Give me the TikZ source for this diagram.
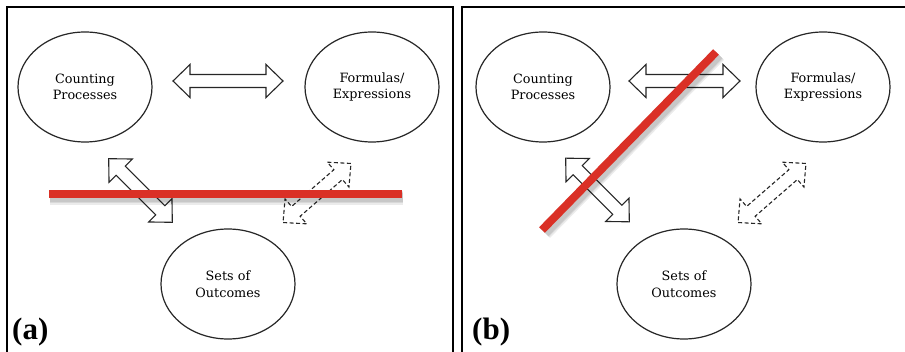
\documentclass[tikz,border=0pt]{standalone}
\usepackage{fontspec}
\setmainfont{DejaVu Serif}
\newfontfamily\labelfont{Liberation Serif}
\usetikzlibrary{shapes.geometric}
\definecolor{redline}{RGB}{218,48,38}
\begin{document}
\begin{tikzpicture}[x=1pt,y=-1pt,
  oval/.style={ellipse, draw=black!85, line width=1.2pt, minimum width=134pt, minimum height=110pt, inner sep=0pt, align=center, font=\fontsize{12.8}{16.5}\selectfont},
  pics/blockarr/.style={code={
    \pgfmathsetmacro\hl{#1/2}
    \pgfmathsetmacro\hb{#1/2-17}
    \path[pic actions] (-\hl,0) -- (-\hb,16.5) -- (-\hb,6.5) -- (\hb,6.5) -- (\hb,16.5) -- (\hl,0)
      -- (\hb,-16.5) -- (\hb,-6.5) -- (-\hb,-6.5) -- (-\hb,-16.5) -- cycle;
  }},
  arrowlook/.style={draw=black!85, fill=white, line width=1.1pt, line join=miter},
  dashlook/.style={arrowlook, dash pattern=on 4pt off 2.5pt},
  panel/.style={draw=black, line width=2pt},
  cross/.style={draw=redline, line width=8pt},
  crossshadow/.style={draw=black, opacity=0.08, line width=#1},
  panellabel/.style={font=\labelfont\bfseries\fontsize{31}{31}\selectfont, anchor=base west, inner sep=0pt}
]
\useasboundingbox[fill=white] (0,0) rectangle (905,352);
% panels
\draw[panel] (7,370) -- (7,7) -- (453,7) -- (453,370);
\draw[panel] (462,370) -- (462,7) -- (920,7);
\node[panellabel] (la) at (12,340) {(a)};
\node[panellabel] (lb) at (472,340) {(b)};

% ---- panel (a)
\node[oval] (cpA) at (85,87) {Counting\\Processes};
\node[oval] (feA) at (372,87) {Formulas/\\Expressions};
\node[oval] (soA) at (228,284) {Sets of\\Outcomes};
\pic[arrowlook] (hA) at (228,81) {blockarr=110};
\pic[arrowlook, rotate=-45] (dA) at (140.5,190.5) {blockarr=90};
\pic[dashlook, rotate=41] (tA) at (317,193) {blockarr=90};
\coordinate (ra1) at (49,194);
\coordinate (ra2) at (402,194);
\foreach \w in {14,11,9} \draw[crossshadow=\w pt] ([shift={(1,4)}]ra1) -- ([shift={(1,4)}]ra2);
\draw[cross] (ra1) -- (ra2);

% ---- panel (b)
\node[oval] (cpB) at (543,87) {Counting\\Processes};
\node[oval] (feB) at (823,87) {Formulas/\\Expressions};
\node[oval] (soB) at (684,284) {Sets of\\Outcomes};
\pic[arrowlook] (hB) at (684.5,81) {blockarr=111};
\pic[arrowlook, rotate=-45] (dB) at (597.5,190) {blockarr=90};
\pic[dashlook, rotate=41] (tB) at (772,193) {blockarr=90};
\coordinate (rb1) at (542,230);
\coordinate (rb2) at (716,52);
\foreach \w in {14,11,9} \draw[crossshadow=\w pt] ([shift={(3,3)}]rb1) -- ([shift={(3,3)}]rb2);
\draw[cross] (rb1) -- (rb2);
\end{tikzpicture}
\end{document}
